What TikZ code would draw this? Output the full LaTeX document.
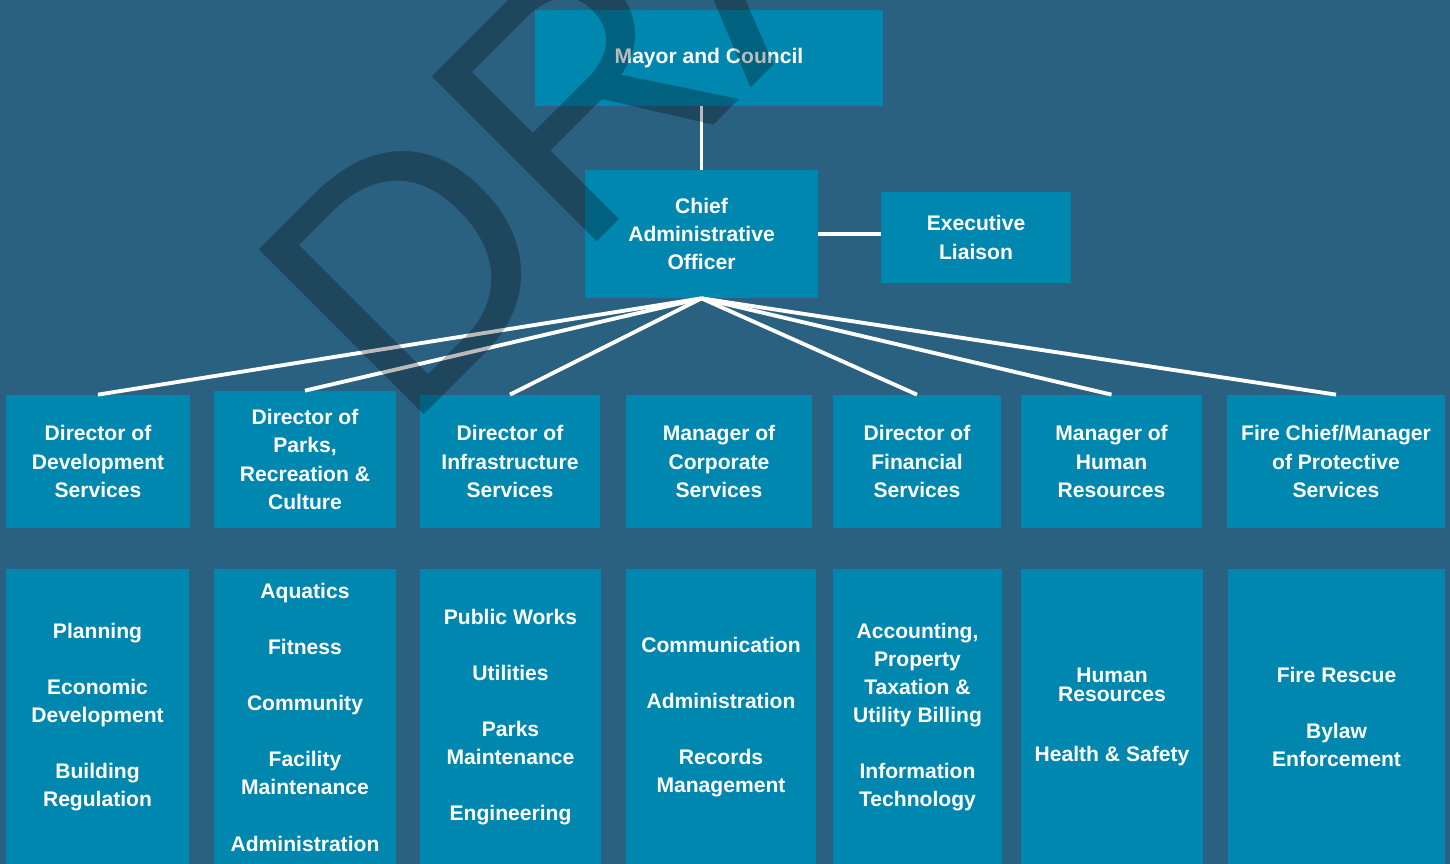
\documentclass[tikz,border=0pt]{standalone}
\usepackage{fontspec}
\setmainfont{Liberation Sans}
\definecolor{bgblue}{HTML}{2A6080}
\definecolor{boxblue}{HTML}{0087AF}
\tikzset{
  orgbox/.style 2 args={fill=boxblue, text=white, inner sep=0pt, align=center,
    font=\bfseries\fontsize{12pt}{16pt}\selectfont,
    minimum width=#1*0.02cm, minimum height=#2*0.02cm},
  link/.style={draw=white, line width=2.2pt}
}
\begin{document}
\begin{tikzpicture}[x=0.02cm, y=-0.02cm]
  \useasboundingbox (0,0) rectangle (1450,864);
  \clip (0,0) rectangle (1450,864);
  \fill[bgblue] (0,0) rectangle (1450,864);

  % Mayor, CAO and liaison
  \node[orgbox={348}{96}] (mayor) at (709,58) {Mayor and Council};
  \node[orgbox={233}{128}] (cao) at (701.5,234) {Chief\\Administrative\\Officer};
  \node[orgbox={190}{91}] (exec) at (976,237.5) {Executive\\Liaison};

  % Directors and managers
  \node[orgbox={184}{133}] (dev) at (98,461.5) {Director of\\Development\\Services};
  \node[orgbox={182}{137}] (parks) at (305,459.5) {Director of\\Parks,\\Recreation \&\\Culture};
  \node[orgbox={180}{133}] (infra) at (510,461.5) {Director of\\Infrastructure\\Services};
  \node[orgbox={186}{133}] (corp) at (719,461.5) {Manager of\\Corporate\\Services};
  \node[orgbox={168}{133}] (fin) at (917,461.5) {Director of\\Financial\\Services};
  \node[orgbox={181}{133}] (hr) at (1111.5,461.5) {Manager of\\Human\\Resources};
  \node[orgbox={218}{133}] (fire) at (1336,461.5) {Fire Chief/Manager\\of Protective\\Services};

  % Departments
  \node[orgbox={183}{296}] (devlist) at (97.5,717) {Planning\\[16pt]Economic\\Development\\[16pt]Building\\Regulation};
  \node[orgbox={182}{296}] (parkslist) at (305,717) {Aquatics\\[16pt]Fitness\\[16pt]Community\\[16pt]Facility\\Maintenance\\[16pt]Administration};
  \node[orgbox={181}{296}] (infralist) at (510.5,717) {Public Works\\[16pt]Utilities\\[16pt]Parks\\Maintenance\\[16pt]Engineering};
  \node[orgbox={190}{296}] (corplist) at (721,717) {Communication\\[16pt]Administration\\[16pt]Records\\Management};
  \node[orgbox={169}{296}] (finlist) at (917.5,717) {Accounting,\\Property\\Taxation \&\\Utility Billing\\[16pt]Information\\Technology};
  \node[orgbox={182}{296}] (hrlist) at (1112,717) {Human\\[-5pt]Resources\\[18pt]Health \& Safety};
  \node[orgbox={217}{296}] (firelist) at (1336.5,717) {Fire Rescue\\[16pt]Bylaw\\Enforcement};

  % Lines
  \draw[link] (cao.north) -- (cao.north |- mayor.south);
  \draw[link] (cao.east) -- (cao.east -| exec.west);
  \foreach \d in {dev,parks,infra,fin,hr,fire}
    \draw[link] (cao.south) -- (\d.north);

  % Watermark
  \node[rotate=45, anchor=base west, inner sep=0pt, text=black, opacity=0.27,
    font=\fontsize{193pt}{193pt}\selectfont] (mark) at (404,435) {DRAFT};
\end{tikzpicture}
\end{document}
